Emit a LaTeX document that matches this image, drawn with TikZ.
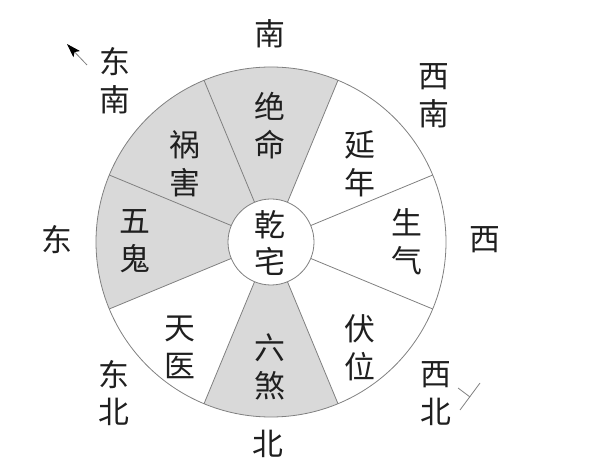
\documentclass[tikz,border=0pt]{standalone}
\usepackage{fontspec}
\newfontfamily\cjk{Noto Sans CJK SC}
\usetikzlibrary{arrows.meta}
\begin{document}
\begin{tikzpicture}[x=1bp,y=1bp,
  lbl/.style={font=\cjk\fontsize{31}{38}\selectfont, align=center, inner sep=0pt, text=black!88},
  ln/.style={draw=black!50, line width=0.8bp}]
\useasboundingbox (0,0) rectangle (600,-470);
\coordinate (C) at (271,-242);
% shaded sectors
\fill[black!15] (C) -- ++(67.5:175bp) arc[start angle=67.5,end angle=202.5,radius=175bp] -- cycle;
\fill[black!15] (C) -- ++(247.5:175bp) arc[start angle=247.5,end angle=292.5,radius=175bp] -- cycle;
% radial dividers
\foreach \a in {22.5,67.5,...,337.5}
  \draw[ln] (C) ++(\a:43bp) -- ++(\a:132bp);
\draw[ln] (C) circle[radius=175bp];
\node[circle, draw=black!50, line width=0.8bp, fill=white, minimum size=86bp, inner sep=0pt] (hub) at (C) {};
% sector labels
\node[lbl] (qz) at (270,-243) {乾\\宅};
\node[lbl] (jm) at (270,-126) {绝\\命};
\node[lbl] (hh) at (185,-164) {祸\\害};
\node[lbl] (yn) at (360,-164) {延\\年};
\node[lbl] (wg) at (135,-241.5) {五\\鬼};
\node[lbl] (sq) at (407,-241.5) {生\\气};
\node[lbl] (ty) at (180,-347.5) {天\\医};
\node[lbl] (ls) at (270,-366.5) {六\\煞};
\node[lbl] (fw) at (360,-347.5) {伏\\位};
% direction labels
\node[lbl] (dS) at (270,-34) {南};
\node[lbl] (dSE) at (115,-81) {东\\南};
\node[lbl] (dSW) at (434,-96) {西\\南};
\node[lbl] (dE) at (57,-240) {东};
\node[lbl] (dW) at (485,-240) {西};
\node[lbl] (dNE) at (114,-393) {东\\北};
\node[lbl] (dN) at (268,-444) {北};
\node[lbl] (dNW) at (436,-394) {西\\北};
% pointer arrow (top left)
\coordinate (arT) at (87,-65);
\coordinate (arH) at (67,-44);
\draw[ln, -{Stealth[length=14bp,width=9bp,inset=3bp,black]}] (arT) -- (arH);
% tail mark (lower right)
\coordinate (mA) at (460,-410);
\coordinate (mB) at (480,-383);
\coordinate (mC) at (458,-388);
\coordinate (mD) at (470,-397);
\draw[ln] (mA) -- (mB);
\draw[ln] (mC) -- (mD);
\end{tikzpicture}
\end{document}
